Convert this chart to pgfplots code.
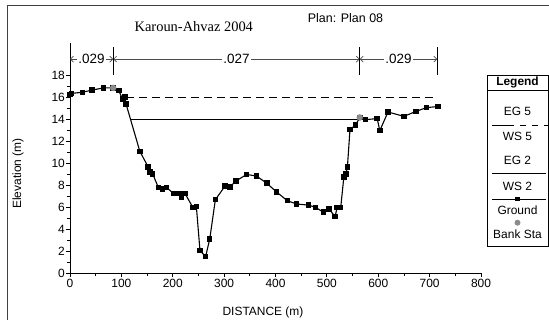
\documentclass[border=0pt]{standalone}
\usepackage{pgfplots}
\pgfplotsset{compat=1.18}
\usepackage{fontspec}
\setmainfont{Liberation Sans}
\newfontfamily\timesf{Liberation Serif}
\usetikzlibrary{arrows.meta}
\definecolor{bankgray}{RGB}{140,140,140}
\newcommand{\fs}[1]{\fontsize{#1}{#1}\selectfont}
\begin{document}
\begin{tikzpicture}
\path[use as bounding box] (0bp,0bp) rectangle (549bp,320bp);
\draw[line width=1bp, black!75] (7bp,0bp) -- (7bp,314bp) -- (549bp,314bp);
\begin{axis}[
  at={(70bp,47bp)}, anchor=south west,
  scale only axis, width=411bp, height=230bp,
  xmin=0, xmax=800, ymin=0, ymax=21,
  axis x line*=bottom, axis y line*=left,
  xtick={0,100,...,800}, ytick={0,2,...,18},
  minor x tick num=1, minor y tick num=1,
  tick align=outside,
  major tick length=4bp, minor tick length=3bp,
  tick style={black, line width=0.8bp},
  axis line style={black, line width=0.8bp},
  ticklabel style={font=\fs{12}},
  yticklabel style={inner sep=1bp},
  xticklabel style={inner sep=2bp},
  /pgf/number format/assume math mode=true,
  clip=false,
]
\addplot[black, line width=1bp, dash pattern=on 8bp off 5bp] coordinates {(109,16) (715,16)};
\addplot[black, line width=1bp] coordinates {(119,14) (562,14)};
\addplot[black, line width=1.1bp, mark=square*, mark size=2.2bp] coordinates {
(0,16.3) (3,16.4) (24,16.5) (43,16.7) (65,16.9) (84,16.9) (95,16.65) (102,15.9) (107,16.05) (109,15.45)
(136,11.1) (152,9.7) (156,9.2) (161,9.05) (172,7.8) (180,7.65) (188,7.8) (202,7.25) (214,7.25) (217,6.9)
(224,7.25) (239,6.0) (246,6.05) (253,2.05) (264,1.5) (272,3.1) (283,6.7) (302,7.95) (311,7.85) (323,8.4)
(344,9.0) (363,8.85) (383,8.2) (402,7.4) (423,6.6) (441,6.3) (464,6.2) (478,6.0) (493,5.55) (504,5.85)
(516,5.15) (520,6.0) (527,6.0) (533,8.75) (537,9.05) (540,9.7) (545,13.1) (556,13.5) (564,14.2) (575,14.0)
(598,14.1) (603,13.0) (619,14.7) (650,14.3) (673,14.75) (694,15.1) (716,15.2)};
\addplot[only marks, mark=*, mark size=3bp, color=bankgray] coordinates {(84,16.9) (564,14.2)};
% Manning's n annotation
\draw[black!70, line width=0.7bp, {Straight Barb[length=3bp,width=6bp]}-{Straight Barb[length=3bp,width=6bp]}]
  (axis cs:0,19.53) -- node[fill=white, inner sep=1.5bp, text=black, font=\fs{13.5}] {.029} (axis cs:84,19.53);
\draw[black!70, line width=0.7bp, {Straight Barb[length=3bp,width=6bp]}-{Straight Barb[length=3bp,width=6bp]}]
  (axis cs:84,19.53) -- node[fill=white, inner sep=1.5bp, text=black, font=\fs{13.5}] {.027} (axis cs:564,19.53);
\draw[black!70, line width=0.7bp, {Straight Barb[length=3bp,width=6bp]}-{Straight Barb[length=3bp,width=6bp]}]
  (axis cs:564,19.53) -- node[fill=white, inner sep=1.5bp, text=black, font=\fs{13.5}] {.029} (axis cs:715,19.53);
\draw[black, line width=1.2bp] (axis cs:84,18.08) -- (axis cs:84,20.64);
\draw[black, line width=1.2bp] (axis cs:564,18.08) -- (axis cs:564,20.64);
\draw[black, line width=1.2bp] (axis cs:715,18.08) -- (axis cs:715,20.64);
\end{axis}
% titles and labels
\node[font=\timesf\fs{14.5}] at (193.8bp,293.3bp) {Karoun-Ahvaz 2004};
\node[font=\fs{12.5}] at (345.5bp,301.7bp) {Plan: Plan 08};
\node[font=\fs{12}, rotate=90] at (18bp,146.5bp) {Elevation (m)};
\node[font=\fs{12}] at (263bp,8bp) {DISTANCE (m)};
% legend
\draw[black, line width=0.9bp] (487bp,73.3bp) rectangle (548bp,245bp);
\draw[black, line width=0.9bp] (487bp,230bp) -- (548bp,230bp);
\node[font=\bfseries\fs{12}] at (517.5bp,237.3bp) {Legend};
\node[font=\fs{12}] at (517.5bp,208.3bp) {EG 5};
\draw[black, line width=1bp, dash pattern=on 22bp off 6bp on 6bp off 6bp on 6bp off 6bp] (492bp,194bp) -- (548bp,194bp);
\node[font=\fs{12}] at (517.5bp,183.3bp) {WS 5};
\node[font=\fs{12}] at (517.5bp,160bp) {EG 2};
\draw[black, line width=1bp] (492bp,146bp) -- (546bp,146bp);
\node[font=\fs{12}] at (517.5bp,134bp) {WS 2};
\draw[black, line width=1bp] (492bp,120.7bp) -- (546bp,120.7bp);
\fill[black] (517.5bp,120.7bp) ++(-2.2bp,-2.2bp) rectangle ++(4.4bp,4.4bp);
\node[font=\fs{12}] at (517.5bp,109.3bp) {Ground};
\fill[bankgray] (517.5bp,97.3bp) circle (3bp);
\node[font=\fs{12}] at (517.5bp,86bp) {Bank Sta};
\end{tikzpicture}
\end{document}
